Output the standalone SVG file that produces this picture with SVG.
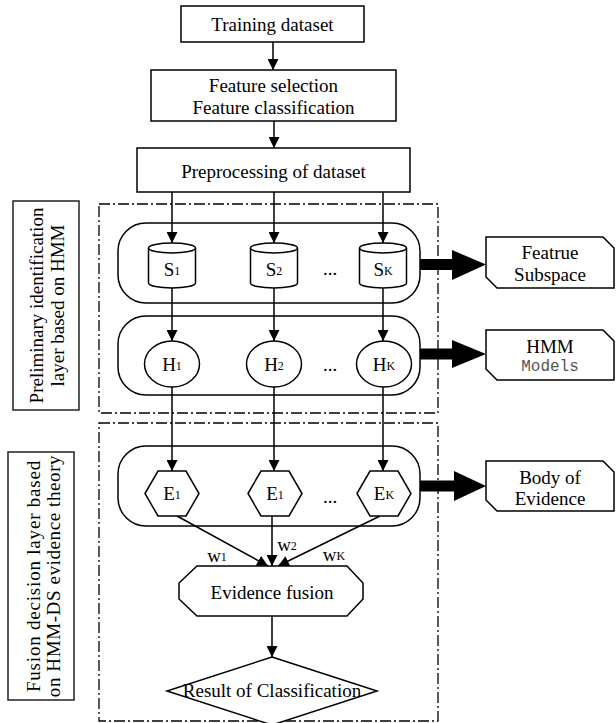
<svg xmlns="http://www.w3.org/2000/svg" width="616" height="723" viewBox="0 0 616 723">
<style>
.t{font-family:"Liberation Serif","Times New Roman",serif;font-size:19px;fill:#000;text-anchor:middle;dominant-baseline:central}
.sub{font-size:12px}
.box{fill:#fff;stroke:#000;stroke-width:1.5}
.ctr{fill:none;stroke:#000;stroke-width:1.5}
.dash{fill:none;stroke:#000;stroke-width:1.3;stroke-dasharray:11,3,2,3}
.lbl{fill:#fff;stroke:#222;stroke-width:1.5}
.ln{stroke:#000;stroke-width:1.5;fill:none;marker-end:url(#ah)}
.big{fill:#000;stroke:none}
.mono{font-family:"Liberation Mono","Courier New",monospace;font-size:16px;fill:#555;text-anchor:middle;dominant-baseline:central}
</style>
<defs>
<marker id="ah" markerUnits="userSpaceOnUse" markerWidth="11" markerHeight="11" refX="11" refY="5.5" orient="auto">
<path d="M0,0 L11,5.5 L0,11 z" fill="#000"/>
</marker>
</defs>
<rect width="616" height="723" fill="#fff"/>

<g id="frames">
<rect class="dash" x="99" y="204" width="339" height="209"/>
<rect class="dash" x="99" y="423" width="339" height="298"/>
</g>

<g id="label-preliminary">
<rect class="lbl" x="13" y="201" width="66" height="209"/>
<g transform="translate(46,305.5) rotate(-90)">
<text class="t" x="0" y="-10">Preliminary identification</text>
<text class="t" x="0" y="11">layer based on HMM</text>
</g>
</g>

<g id="label-fusion">
<rect class="lbl" x="8" y="452" width="66" height="248"/>
<g transform="translate(41,576) rotate(-90)">
<text class="t" x="0" y="-8" style="letter-spacing:0.8px">Fusion decision  layer based</text>
<text class="t" x="0" y="12" style="letter-spacing:0.6px">on HMM-DS evidence theory</text>
</g>
</g>

<g id="containers">
<rect class="ctr" x="118" y="223" width="302" height="80" rx="28"/>
<rect class="ctr" x="118" y="316" width="302" height="79" rx="28"/>
<rect class="ctr" x="118" y="446" width="302" height="80" rx="28"/>
</g>

<g id="training">
<rect class="box" x="181" y="6" width="183" height="36"/>
<text class="t" x="272.5" y="24">Training dataset</text>
</g>

<g id="feature">
<rect class="box" x="151" y="70" width="245" height="51"/>
<text class="t" x="273.5" y="85">Feature selection</text>
<text class="t" x="273.5" y="107">Feature classification</text>
</g>

<g id="preprocessing">
<rect class="box" x="137" y="148" width="273" height="44"/>
<text class="t" x="273.5" y="171">Preprocessing of dataset</text>
</g>

<g id="connectors">
<line class="ln" x1="273" y1="42" x2="273" y2="70"/>
<line class="ln" x1="274" y1="121" x2="274" y2="148"/>
<line class="ln" x1="172" y1="192" x2="172" y2="243"/>
<line class="ln" x1="274" y1="192" x2="274" y2="243"/>
<line class="ln" x1="383" y1="192" x2="383" y2="243"/>
<line class="ln" x1="172" y1="288" x2="172" y2="341"/>
<line class="ln" x1="274" y1="288" x2="274" y2="341"/>
<line class="ln" x1="383" y1="288" x2="383" y2="341"/>
<line class="ln" x1="172" y1="387" x2="172" y2="471"/>
<line class="ln" x1="274" y1="387" x2="274" y2="471"/>
<line class="ln" x1="383" y1="387" x2="383" y2="471"/>
<line class="ln" x1="177" y1="516" x2="268" y2="566"/>
<line class="ln" x1="272" y1="516" x2="272" y2="566"/>
<line class="ln" x1="380" y1="516" x2="278" y2="566"/>
<line class="ln" x1="272" y1="616" x2="272" y2="657"/>
<path class="big" d="M420,259 L452,259 L452,250 L486,264.5 L452,280 L452,270 L420,270 z"/>
<path class="big" d="M420,348.5 L452,348.5 L452,340 L486,354 L452,368 L452,359.5 L420,359.5 z"/>
<path class="big" d="M420,480.5 L454,480.5 L454,471 L486,486 L454,501 L454,491.5 L420,491.5 z"/>
</g>

<g id="S1">
<path class="box" d="M148.5,248 A23.5,5 0 0 1 195.5,248 L195.5,283 A23.5,5 0 0 1 148.5,283 z"/>
<path class="ctr" d="M148.5,248 A23.5,5 0 0 0 195.5,248"/>
<text class="t" x="172" y="269">S<tspan class="sub" dy="2">1</tspan></text>
</g>
<g id="S2">
<path class="box" d="M250.5,248 A23.5,5 0 0 1 297.5,248 L297.5,283 A23.5,5 0 0 1 250.5,283 z"/>
<path class="ctr" d="M250.5,248 A23.5,5 0 0 0 297.5,248"/>
<text class="t" x="274" y="269">S<tspan class="sub" dy="2">2</tspan></text>
</g>
<g id="SK">
<path class="box" d="M359.5,248 A23.5,5 0 0 1 406.5,248 L406.5,283 A23.5,5 0 0 1 359.5,283 z"/>
<path class="ctr" d="M359.5,248 A23.5,5 0 0 0 406.5,248"/>
<text class="t" x="383" y="269">S<tspan class="sub" dy="2">K</tspan></text>
</g>
<text class="t" x="330" y="268">...</text>

<g id="H1">
<ellipse class="box" cx="172" cy="364" rx="27.5" ry="23"/>
<text class="t" x="172" y="364">H<tspan class="sub" dy="2">1</tspan></text>
</g>
<g id="H2">
<ellipse class="box" cx="274" cy="364" rx="27.5" ry="23"/>
<text class="t" x="274" y="364">H<tspan class="sub" dy="2">2</tspan></text>
</g>
<g id="HK">
<ellipse class="box" cx="384" cy="364" rx="27.5" ry="23"/>
<text class="t" x="384" y="364">H<tspan class="sub" dy="2">K</tspan></text>
</g>
<text class="t" x="330" y="364">...</text>

<g id="E1">
<polygon class="box" points="145,493.5 158,471 186,471 199,493.5 186,516 158,516"/>
<text class="t" x="172" y="493">E<tspan class="sub" dy="2">1</tspan></text>
</g>
<g id="E2">
<polygon class="box" points="248,493.5 261,471 289,471 302,493.5 289,516 261,516"/>
<text class="t" x="275" y="493">E<tspan class="sub" dy="2">1</tspan></text>
</g>
<g id="EK">
<polygon class="box" points="357,493.5 370,471 398,471 411,493.5 398,516 370,516"/>
<text class="t" x="384" y="493">E<tspan class="sub" dy="2">K</tspan></text>
</g>
<text class="t" x="330" y="496">...</text>

<g id="weights">
<text class="t" x="217" y="555">w<tspan class="sub" dy="2">1</tspan></text>
<text class="t" x="287" y="544">w<tspan class="sub" dy="2">2</tspan></text>
<text class="t" x="334" y="554">w<tspan class="sub" dy="2">K</tspan></text>
</g>

<g id="fusion">
<polygon class="box" points="197,566 347,566 363,583 363,599 347,616 197,616 179,599 179,583"/>
<text class="t" x="272" y="592">Evidence fusion</text>
</g>

<g id="result">
<polygon class="box" points="272,657 377,691 272,725 167,691"/>
<text class="t" x="272" y="690">Result of Classification</text>
</g>

<g id="feature-subspace">
<polygon class="box" points="486,237 603,237 614,248 614,288 497,288 486,277"/>
<text class="t" x="550" y="252">Featrue</text>
<text class="t" x="550" y="274">Subspace</text>
</g>
<g id="hmm-models">
<polygon class="box" points="486,330 603,330 614,341 614,380 497,380 486,369"/>
<text class="t" x="550" y="346">HMM</text>
<text class="mono" x="550" y="367">Models</text>
</g>
<g id="body-evidence">
<polygon class="box" points="486,461 603,461 614,472 614,511 497,511 486,500"/>
<text class="t" x="550" y="477">Body of</text>
<text class="t" x="550" y="498">Evidence</text>
</g>
</svg>
